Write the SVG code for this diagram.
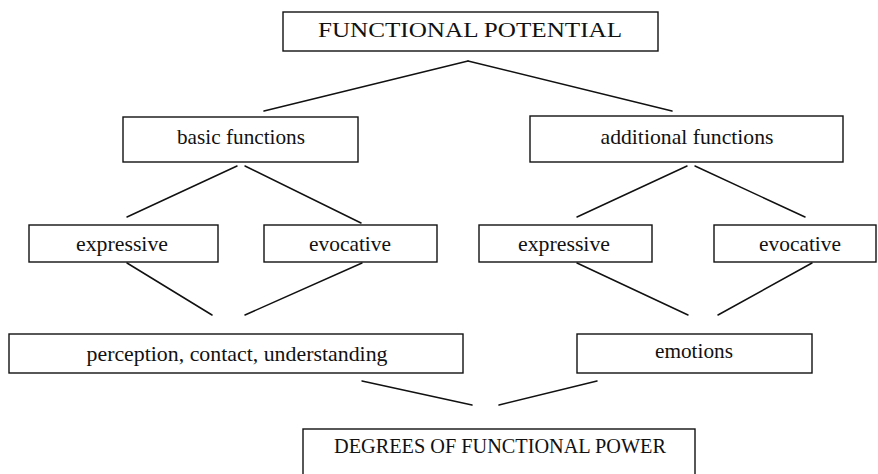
<svg xmlns="http://www.w3.org/2000/svg" width="878" height="474" viewBox="0 0 878 474">
  <style>
    .box { fill: #ffffff; stroke: #111111; stroke-width: 1.4; }
    .link { stroke: #111111; stroke-width: 1.5; fill: none; stroke-linecap: round; }
    .lbl { font-family: "Liberation Serif", Tinos, "Times New Roman", "Noto Serif", "DejaVu Serif", Times, serif; fill: #111111; text-anchor: middle; }
    .caps { font-size: 20px; }
    .low { font-size: 22px; }
  </style>
  <rect width="878" height="474" fill="#ffffff"/>

  <g id="connectors">
    <!-- functional potential to the two function groups -->
    <line class="link" x1="468" y1="61" x2="264" y2="111"/>
    <line class="link" x1="468" y1="61" x2="672" y2="111"/>
    <!-- basic functions split -->
    <line class="link" x1="237" y1="166" x2="127" y2="217"/>
    <line class="link" x1="245" y1="166" x2="361" y2="223"/>
    <!-- additional functions split -->
    <line class="link" x1="687" y1="166" x2="577" y2="217"/>
    <line class="link" x1="695" y1="166" x2="805" y2="217"/>
    <!-- left pair converging -->
    <line class="link" x1="127" y1="263" x2="212" y2="315"/>
    <line class="link" x1="362" y1="263" x2="245" y2="315"/>
    <!-- right pair converging -->
    <line class="link" x1="577" y1="263" x2="688" y2="315"/>
    <line class="link" x1="812" y1="263" x2="718" y2="315"/>
    <!-- outcomes converging to degrees -->
    <line class="link" x1="362" y1="381" x2="472" y2="405"/>
    <line class="link" x1="597" y1="381" x2="499" y2="405"/>
  </g>

  <g id="functional-potential">
    <rect class="box" x="283" y="12" width="375" height="39"/>
    <text class="lbl caps" x="470" y="37" textLength="304" lengthAdjust="spacingAndGlyphs">FUNCTIONAL POTENTIAL</text>
  </g>

  <g id="basic-functions">
    <rect class="box" x="123" y="117" width="235" height="45"/>
    <text class="lbl low" x="241" y="144" textLength="128" lengthAdjust="spacingAndGlyphs">basic functions</text>
  </g>

  <g id="additional-functions">
    <rect class="box" x="530" y="116" width="313" height="46"/>
    <text class="lbl low" x="687" y="144" textLength="173" lengthAdjust="spacingAndGlyphs">additional functions</text>
  </g>

  <g id="expressive-basic">
    <rect class="box" x="29" y="225" width="189" height="37"/>
    <text class="lbl low" x="122" y="251" textLength="92" lengthAdjust="spacingAndGlyphs">expressive</text>
  </g>

  <g id="evocative-basic">
    <rect class="box" x="264" y="225" width="173" height="37"/>
    <text class="lbl low" x="350" y="251" textLength="82" lengthAdjust="spacingAndGlyphs">evocative</text>
  </g>

  <g id="expressive-additional">
    <rect class="box" x="479" y="225" width="173" height="37"/>
    <text class="lbl low" x="564" y="251" textLength="92" lengthAdjust="spacingAndGlyphs">expressive</text>
  </g>

  <g id="evocative-additional">
    <rect class="box" x="714" y="225" width="162" height="37"/>
    <text class="lbl low" x="800" y="251" textLength="82" lengthAdjust="spacingAndGlyphs">evocative</text>
  </g>

  <g id="perception">
    <rect class="box" x="9" y="334" width="454" height="39"/>
    <text class="lbl low" x="237" y="361" textLength="301" lengthAdjust="spacingAndGlyphs">perception, contact, understanding</text>
  </g>

  <g id="emotions">
    <rect class="box" x="577" y="334" width="235" height="39"/>
    <text class="lbl low" x="694" y="358" textLength="78" lengthAdjust="spacingAndGlyphs">emotions</text>
  </g>

  <g id="degrees">
    <rect class="box" x="303" y="429" width="392" height="60"/>
    <text class="lbl caps" x="500" y="453" font-size="19" textLength="332" lengthAdjust="spacingAndGlyphs">DEGREES OF FUNCTIONAL POWER</text>
  </g>
</svg>
